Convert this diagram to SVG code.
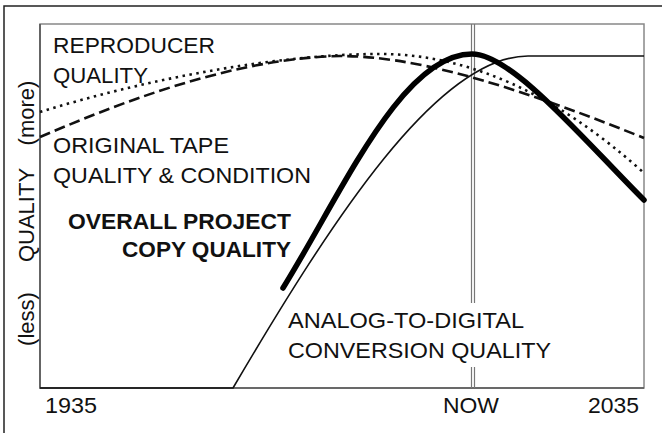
<svg xmlns="http://www.w3.org/2000/svg" width="662" height="433" viewBox="0 0 662 433">
<style>
text{font-family:"Liberation Sans",Arial,sans-serif;font-size:22px;fill:#111}
.b{font-weight:bold}
.frame{fill:none;stroke:#222;stroke-width:1.5}
.box{fill:none;stroke:#888;stroke-width:1.5}
.axis{fill:none;stroke:#555;stroke-width:1.6}
.now{fill:none;stroke:#777;stroke-width:1.2}
.thin{fill:none;stroke:#111;stroke-width:1.6}
.thick{fill:none;stroke:#000;stroke-width:5.5;stroke-linecap:round}
.dash{fill:none;stroke:#111;stroke-width:2.6;stroke-dasharray:11 5}
.dot{fill:none;stroke:#111;stroke-width:2.6;stroke-dasharray:2.5 4.5}
</style>
<rect width="662" height="433" fill="#fff"/>
<path class="frame" d="M662 6H4V433"/>
<g id="plot-frame">
<rect class="box" x="40" y="24" width="604" height="364"/>
<path class="axis" d="M40 24V388H644"/>
<path class="now" d="M471.5 24V303M471.5 367V388M474.5 24V303M474.5 367V388"/>
</g>
<g id="connectors">
<path id="curve-adc" class="thin" d="M40 388H233C333 218 438 56 528 56H644"/>
<path id="curve-tape" class="dash" d="M40 137C110 107 230 58 340 56C410 56 500 80 644 138"/>
<path id="curve-reproducer" class="dot" d="M40 112C150 78 280 54 380 54Q512 54 644 173"/>
<path id="curve-overall" class="thick" d="M283 288C343 191 402 54 472 54C512 54 584 140 644 200"/>
</g>
<g id="label-reproducer">
<text x="53" y="53" textLength="162" lengthAdjust="spacingAndGlyphs">REPRODUCER</text>
<text x="53" y="83" textLength="95" lengthAdjust="spacingAndGlyphs">QUALITY</text>
</g>
<g id="label-tape">
<text x="53" y="153" textLength="176" lengthAdjust="spacingAndGlyphs">ORIGINAL TAPE</text>
<text x="53" y="183" textLength="258" lengthAdjust="spacingAndGlyphs">QUALITY &amp; CONDITION</text>
</g>
<g id="label-overall">
<text class="b" x="68" y="229" textLength="223" lengthAdjust="spacingAndGlyphs">OVERALL PROJECT</text>
<text class="b" x="122" y="257" textLength="169" lengthAdjust="spacingAndGlyphs">COPY QUALITY</text>
</g>
<g id="label-adc">
<text x="288" y="328" textLength="236" lengthAdjust="spacingAndGlyphs">ANALOG-TO-DIGITAL</text>
<text x="288" y="358" textLength="263" lengthAdjust="spacingAndGlyphs">CONVERSION QUALITY</text>
</g>
<g id="axis-x-labels">
<text x="45" y="413" textLength="52" lengthAdjust="spacingAndGlyphs">1935</text>
<text x="443" y="413" textLength="56" lengthAdjust="spacingAndGlyphs">NOW</text>
<text x="588" y="413" textLength="51" lengthAdjust="spacingAndGlyphs">2035</text>
</g>
<g id="axis-y-labels">
<text transform="translate(34 113) rotate(-90)" text-anchor="middle">(more)</text>
<text transform="translate(34 215) rotate(-90)" text-anchor="middle">QUALITY</text>
<text transform="translate(34 319) rotate(-90)" text-anchor="middle">(less)</text>
</g>
</svg>
